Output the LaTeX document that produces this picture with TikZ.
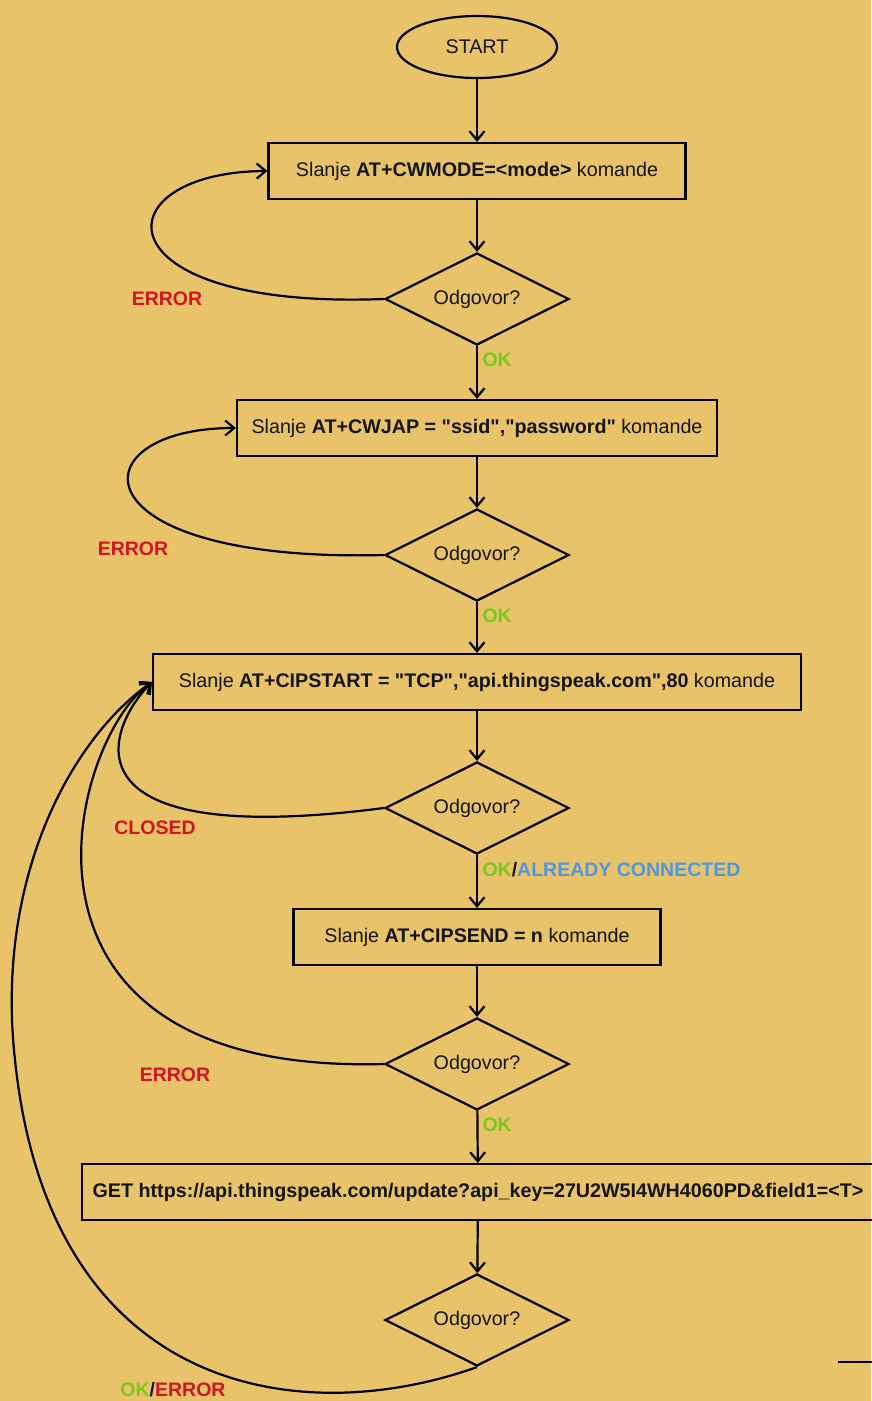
\documentclass[tikz,border=0pt]{standalone}
\usepackage{fontspec}
\setmainfont{Liberation Sans}[Ligatures=TeXOff]
\usetikzlibrary{shapes.geometric,arrows.meta}
\definecolor{bg}{RGB}{232,195,106}
\definecolor{errred}{RGB}{210,20,35}
\definecolor{okgreen}{RGB}{120,200,30}
\definecolor{acblue}{RGB}{80,150,225}
\definecolor{ink}{RGB}{20,20,20}
\begin{document}
\begin{tikzpicture}[x=1pt,y=-1pt,
  every node/.style={font=\fontsize{19.7}{23}\selectfont, text=ink},
  box/.style={draw=black, line width=2.2pt, minimum height=56pt, inner sep=0pt},
  dec/.style={draw=black, shape=diamond, aspect=2, minimum width=184pt, minimum height=92pt, inner sep=0pt, line width=2.2pt},
  conn/.style={line width=2.2pt, -{Straight Barb[length=9pt,width=15pt,line width=2.2pt]}},
  lbl/.style={font=\fontsize{19.5}{23}\selectfont\bfseries}
]
\fill[bg] (0,0) rectangle (871,1401);
\useasboundingbox (0,0) rectangle (871,1401);

\node[ellipse, draw=black, line width=2.2pt, minimum width=160pt, minimum height=62pt, inner sep=0pt] (start) at (477,47) {START};
\node[box, minimum width=417pt] (b1) at (477,171) {Slanje \textbf{AT+CWMODE=<mode>} komande};
\node[dec] (d1) at (477,299) {Odgovor?};
\node[box, minimum width=480pt] (b2) at (477,428) {Slanje \textbf{AT+CWJAP = "ssid","password"} komande};
\node[dec] (d2) at (477,555) {Odgovor?};
\node[box, minimum width=648pt] (b3) at (477,682) {Slanje \textbf{AT+CIPSTART = "TCP","api.thingspeak.com",80} komande};
\node[dec] (d3) at (477,808) {Odgovor?};
\node[box, minimum width=367pt] (b4) at (477,937) {Slanje \textbf{AT+CIPSEND = n} komande};
\node[dec] (d4) at (477,1064) {Odgovor?};
\node[box, minimum width=792pt] (b5) at (478,1192) {\textbf{GET https://api.thingspeak.com/update?api\_key=27U2W5I4WH4060PD\&field1=<T>}};
\node[dec] (d5) at (477,1320) {Odgovor?};

\draw[conn] (start) -- (b1);
\draw[conn] (b1) -- (d1);
\draw[conn] (d1) -- (b2);
\draw[conn] (b2) -- (d2);
\draw[conn] (d2) -- (b3);
\draw[conn] (b3) -- (d3);
\draw[conn] (d3) -- (b4);
\draw[conn] (b4) -- (d4);
\draw[conn] (d4) -- (b5);
\draw[conn] (b5) -- (d5);

\draw[conn] (d1.west) .. controls (95,310) and (100,172) .. (b1.west);
\draw[conn] (d2.west) .. controls (72,563) and (75,428) .. (b2.west);
\draw[conn] (d3.west) .. controls (60,850) and (105,730) .. (b3.west);
\draw[conn] (d4.west) .. controls (-20,1075) and (70,740) .. (b3.west);
\draw[conn] (d5.south) .. controls (300,1430) and (50,1395) .. (15,1060) .. controls (-5,880) and (70,740) .. (b3.west);

\node[lbl, text=errred] (e1) at (167,299) {ERROR};
\node[lbl, text=errred] (e2) at (133,549) {ERROR};
\node[lbl, text=errred] (e3) at (155,828) {CLOSED};
\node[lbl, text=errred] (e4) at (175,1075) {ERROR};
\node[lbl, text=okgreen, anchor=west] (o1) at (479,360) {OK};
\node[lbl, text=okgreen, anchor=west] (o2) at (479,616) {OK};
\node[lbl, anchor=west] (o3) at (479,870) {\textcolor{okgreen}{OK}/\textcolor{acblue}{ALREADY CONNECTED}};
\node[lbl, text=okgreen, anchor=west] (o4) at (479,1125) {OK};
\node[lbl] (o5) at (173,1390) {\textcolor{okgreen}{OK}/\textcolor{errred}{ERROR}};

\coordinate (s1) at (838,1362);
\coordinate (s2) at (872,1362);
\draw[line width=2.2pt] (s1) -- (s2);
\end{tikzpicture}
\end{document}
